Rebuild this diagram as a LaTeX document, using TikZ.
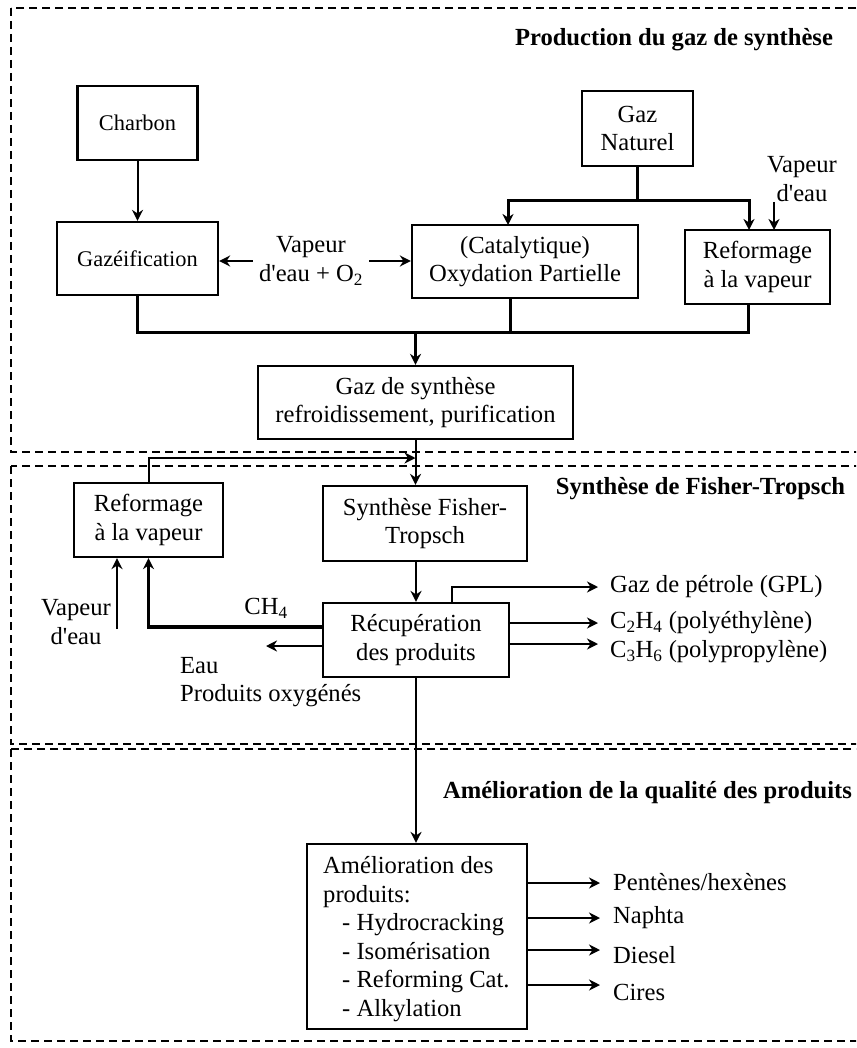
\documentclass[tikz,border=0pt]{standalone}
\usepackage{fontspec}
\setmainfont{Liberation Serif}
\usetikzlibrary{arrows.meta,calc}
\newcommand{\apo}{\textquotesingle}
\begin{document}
\begin{tikzpicture}[x=1pt,y=-1pt,
  every node/.style={font=\fontsize{24.6}{28.5}\selectfont, inner sep=0pt},
  smallfont/.style={font=\fontsize{22.4}{27}\selectfont},
  titlefont/.style={font=\fontsize{24.6}{28.5}\selectfont\bfseries},
  box/.style={draw, line width=2.2pt, align=center},
  conn/.style={line width=2pt},
  trunk/.style={line width=3pt},
  arr/.style={conn, -{Stealth[length=11pt,width=11pt,inset=3.5pt]}},
  sect/.style={line width=2pt, dash pattern=on 8pt off 5pt},
  lab/.style={anchor=west, inner xsep=12pt, align=left}
]
\useasboundingbox (0,0) rectangle (856,1048);
\clip (0,0) rectangle (856,1048);
\fill[white] (0,0) rectangle (856,1048);

% sections
\draw[sect] (11,8) rectangle (880,452);
\draw[sect] (11,466) rectangle (880,744);
\draw[sect] (11,749) rectangle (880,1041);

% titles
\node[titlefont] (t1) at (674,40) {Production du gaz de synthèse};
\node[titlefont] (t2) at (700.5,489) {Synthèse de Fisher-Tropsch};
\node[titlefont] (t3) at (647.5,793) {Amélioration de la qualité des produits};

% boxes
\node[box, smallfont, minimum width=120pt, minimum height=74pt] (charbon) at (137.5,123) {Charbon};
\node[box, smallfont, minimum width=161pt, minimum height=73pt] (gazei) at (137.5,258.5) {Gazéification};
\node[box, minimum width=226pt, minimum height=73pt] (oxy) at (525,261.5) {(Catalytique)\\Oxydation Partielle};
\node[box, minimum width=111pt, minimum height=75pt] (gn) at (637.5,128.5) {Gaz\\Naturel};
\node[box, minimum width=145pt, minimum height=74pt] (ref1) at (757.5,267) {Reformage\\à la vapeur};
\node[box, minimum width=315pt, minimum height=73pt] (syn) at (415.5,402.5) {Gaz de synthèse\\refroidissement, purification};
\node[box, minimum width=149pt, minimum height=74pt] (ref2) at (148.5,520) {Reformage\\à la vapeur};
\node[box, minimum width=204pt, minimum height=75pt] (ft) at (425,523.5) {Synthèse Fisher-\\Tropsch};
\node[box, minimum width=186pt, minimum height=74pt] (rec) at (416,640) {Récupération\\des produits};
\node[box, minimum width=220pt, minimum height=185pt] (amel) at (417,936.5) {};
\node[anchor=west, align=left] (ameltxt) at (323,939)
  {Amélioration des\\produits:\\\hspace*{19pt}- Hydrocracking\\\hspace*{19pt}- Isomérisation\\\hspace*{19pt}- Reforming Cat.\\\hspace*{19pt}- Alkylation};

% labels
\node[align=center, inner xsep=6pt] (vap1) at (311,261) {Vapeur\\d\apo eau + O\textsubscript{2}};
\node[align=center] (vap2) at (802,179) {Vapeur\\d\apo eau};
\node[align=center] (vap3) at (76,622) {Vapeur\\d\apo eau};
\node (ch4) at (266,608) {CH\textsubscript{4}};
\node[anchor=west, align=left] (eau) at (180,682) {Eau\\Produits oxygénés};
\node[lab] (gpl) at (598,587) {Gaz de pétrole (GPL)};
\node[lab] (c2) at (598,623) {C\textsubscript{2}H\textsubscript{4} (polyéthylène)};
\node[lab] (c3) at (598,652) {C\textsubscript{3}H\textsubscript{6} (polypropylène)};
\node[lab, inner xsep=13pt] (o1) at (600,882) {Pentènes/hexènes};
\node[lab, inner xsep=13pt] (o2) at (600,918) {Naphta};
\node[lab, inner xsep=13pt] (o3) at (600,955) {Diesel};
\node[lab, inner xsep=13pt] (o4) at (600,992) {Cires};

% coordinates
\coordinate (gnsplit) at (637.5,201);
\coordinate (oxyin) at (508,225);
\coordinate (ref1in) at (749,230);
\coordinate (vap2out) at (774,202);
\coordinate (vap2in) at (774,230);
\coordinate (coll) at (748,332);
\coordinate (oxyout) at (510,298);
\coordinate (rc) at (148.5,458);
\coordinate (v3) at (117,629);
\coordinate (eauend) at (266,646);
\coordinate (gplout) at (452,603);
\coordinate (c3end) at (598,644);
\coordinate (e1) at (600,883);
\coordinate (e2) at (600,918);
\coordinate (e3) at (600,950);
\coordinate (e4) at (600,985);

% connectors - top section
\draw[arr] (charbon.south) -- (charbon.south |- gazei.north);
\draw[arr] (vap1.west) -- (vap1.west -| gazei.east);
\draw[arr] (vap1.east) -- (vap1.east -| oxy.west);
\draw[trunk] (gn.south) -- (gnsplit);
\draw[arr, trunk] (gnsplit) -| (oxyin);
\draw[arr, trunk] (gnsplit) -| (ref1in);
\draw[arr] (vap2out) -- (vap2in);
\draw[trunk] (gazei.south) |- (coll) -- (coll |- ref1.south);
\draw[trunk] (oxyout) -- (oxyout |- coll);
\draw[arr, trunk] (syn.north |- coll) -- (syn.north);

% middle section
\draw[arr] (syn.south) -- (syn.south |- ft.north);
\draw[arr, conn] (ref2.north) |- (syn.south |- rc);
\draw[arr] (rec.north |- ft.south) -- (rec.north);
\draw[arr, line width=3.3pt] ($(rec.west)+(0,-13)$) -| (ref2.south);
\draw[arr] (v3) -- (v3 |- ref2.south);
\draw[arr] (rec.west |- eauend) -- (eauend);
\draw[arr] (gplout) |- (gpl.west);
\draw[arr] (rec.east |- c2.west) -- (c2.west);
\draw[arr] (rec.east |- c3end) -- (c3end);

% bottom section
\draw[arr] (rec.south) -- (rec.south |- amel.north);
\draw[arr] (amel.east |- e1) -- (e1);
\draw[arr] (amel.east |- e2) -- (e2);
\draw[arr] (amel.east |- e3) -- (e3);
\draw[arr] (amel.east |- e4) -- (e4);
\end{tikzpicture}
\end{document}
